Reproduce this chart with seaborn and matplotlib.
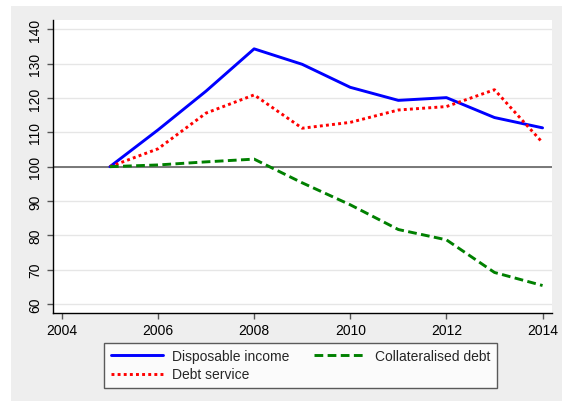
import numpy as np
import pandas as pd
import matplotlib
matplotlib.use('Agg')
import matplotlib.pyplot as plt
import seaborn as sns
from matplotlib.patches import Rectangle

years = [2005, 2006, 2007, 2008, 2009, 2010, 2011, 2012, 2013, 2014]
disposable_income = [100, 110.7, 122, 134.3, 129.8, 123.1, 119.3, 120.1, 114.3, 111.3]
debt_service = [100, 105.2, 115.6, 120.9, 111.2, 112.9, 116.5, 117.5, 122.4, 107.0]
collateralised_debt = [100, 100.5, 101.4, 102.2, 95.3, 88.9, 81.7, 78.7, 69.2, 65.4]

series_names = ['Disposable income', 'Debt service', 'Collateralised debt']
colors = {'Disposable income': '#0000ff', 'Debt service': '#ff0000', 'Collateralised debt': '#008000'}
dashes = {'Disposable income': '', 'Debt service': (1, 1.1), 'Collateralised debt': (3, 1.5)}

df = pd.DataFrame({
    'year': years * 3,
    'value': disposable_income + debt_service + collateralised_debt,
    'series': np.repeat(series_names, len(years)),
})

sns.set_style('white')
plt.rcParams['font.family'] = ['Liberation Sans', 'DejaVu Sans']

fig = plt.figure(figsize=(5.62, 4.02), dpi=100)
fig.patch.set_facecolor('white')
fig.patches.append(Rectangle((11 / 562, 0), 1 - 11 / 562, 1 - 7 / 402,
                             transform=fig.transFigure, facecolor='#eeeeee',
                             edgecolor='none', zorder=-10))
ax = fig.add_axes([52.7 / 562, 1 - 314 / 402, (551.7 - 52.7) / 562, (314 - 21) / 402])
ax.set_facecolor('white')

for y in range(60, 141, 10):
    ax.axhline(y, color='#e6e6e6', lw=1.0, zorder=0)
ax.axhline(100, color='#6e6e6e', lw=1.3, zorder=1)

sns.lineplot(data=df, x='year', y='value', hue='series', style='series',
             hue_order=series_names, style_order=series_names,
             palette=colors, dashes=dashes, lw=2.1, ax=ax, zorder=3)

ax.set_xlim(2003.81, 2014.19)
ax.set_ylim(57.4, 142.7)
ax.set_xticks(range(2004, 2015, 2))
ax.set_yticks(range(60, 141, 10))
ax.set_xlabel('')
ax.set_ylabel('')
for lbl in ax.get_yticklabels():
    lbl.set_rotation(90)
    lbl.set_va('center')
ax.tick_params(axis='both', direction='out', length=4.5, width=1, color='#555555',
               labelsize=10, labelcolor='black', pad=3)
ax.tick_params(axis='x', bottom=True)
ax.tick_params(axis='y', left=True)
for s in ['top', 'right']:
    ax.spines[s].set_visible(False)
for s in ['left', 'bottom']:
    ax.spines[s].set_color('black')
    ax.spines[s].set_linewidth(1.0)

handles, labels = ax.get_legend_handles_labels()
ax.legend_.remove()
leg = fig.legend(handles, labels, ncol=2, loc='upper center',
                 bbox_to_anchor=(0.535, 1 - 344 / 402), fontsize=10,
                 frameon=True, fancybox=False, edgecolor='#333333',
                 handlelength=3.75, columnspacing=1.8, handletextpad=0.65,
                 labelspacing=0.3, borderpad=0.45, borderaxespad=0)
leg.get_frame().set_linewidth(1.0)
leg.get_frame().set_facecolor('white')
for h in leg.get_lines():
    h.set_linewidth(2.1)

fig.savefig('out.png', dpi=100)
